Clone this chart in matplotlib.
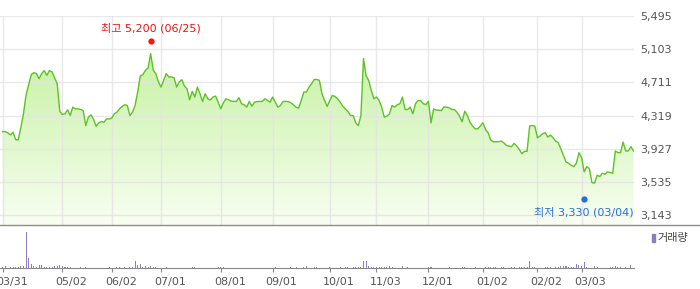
import numpy as np
import matplotlib
matplotlib.use("Agg")
import matplotlib.pyplot as plt
from matplotlib import transforms
from matplotlib.colors import LinearSegmentedColormap
from matplotlib.lines import Line2D
from matplotlib.patches import Rectangle

plt.rcParams["font.family"] = ["DejaVu Sans", "Noto Sans CJK KR"]

# daily closing price, one value per trading day (03/31 .. late March)
price = [
    4129, 4129, 4113, 4089, 4121, 4034, 4030, 4180, 4339, 4564,
    4683, 4802, 4826, 4814, 4754, 4814, 4850, 4794, 4850, 4834,
    4762, 4695, 4366, 4331, 4339, 4386, 4319, 4418, 4398, 4398,
    4390, 4378, 4200, 4299, 4327, 4271, 4192, 4232, 4248, 4240,
    4279, 4279, 4287, 4339, 4358, 4398, 4426, 4446, 4438, 4319,
    4358, 4438, 4596, 4786, 4802, 4854, 4881, 5051, 4854, 4814,
    4715, 4655, 4735, 4814, 4774, 4774, 4766, 4655, 4715, 4743,
    4667, 4636, 4505, 4604, 4537, 4655, 4576, 4485, 4576, 4517,
    4503, 4537, 4549, 4477, 4398, 4469, 4517, 4505, 4489, 4485,
    4485, 4529, 4458, 4446, 4418, 4485, 4430, 4477, 4485, 4485,
    4485, 4517, 4497, 4477, 4537, 4477, 4418, 4438, 4485, 4485,
    4485, 4469, 4446, 4418, 4406, 4497, 4596, 4596, 4655, 4695,
    4745, 4745, 4735, 4576, 4497, 4426, 4497, 4556, 4545, 4517,
    4477, 4430, 4398, 4366, 4319, 4319, 4232, 4200, 4319, 4992,
    4786, 4735, 4616, 4517, 4537, 4497, 4418, 4299, 4311, 4339,
    4438, 4418, 4446, 4458, 4537, 4390, 4390, 4418, 4339, 4458,
    4497, 4495, 4460, 4448, 4488, 4233, 4397, 4382, 4382, 4378,
    4421, 4417, 4409, 4390, 4390, 4358, 4311, 4245, 4370, 4319,
    4241, 4194, 4162, 4162, 4194, 4233, 4154, 4115, 4029, 4009,
    4009, 4009, 4017, 3998, 3966, 3958, 3950, 3990, 3958, 3919,
    3868, 3896, 3896, 4194, 4201, 4194, 4056, 4076, 4103, 4115,
    4064, 4088, 4056, 4017, 3998, 3927, 3849, 3770, 3755, 3731,
    3715, 3755, 3880, 3821, 3653, 3715, 3692, 3527, 3519, 3613,
    3598, 3637, 3625, 3653, 3645, 3637, 3900, 3880, 3880, 4005,
    3900, 3900, 3951, 3900,
]

# trading volume (relative units), only days with a visible bar
vol_idx = (
    [0, 1, 3, 4, 5, 6, 7, 8, 9, 10, 11, 12, 13, 14, 15, 16, 17, 18, 19, 20, 21, 22, 23, 24, 25, 26]
    + [30, 32, 41, 44, 45, 47, 49, 50, 51, 52, 53, 54, 55, 56, 57, 58, 59, 63]
    + [73, 74, 83, 84, 85, 105, 111, 113, 116, 117, 120, 121]
    + [126, 130, 132, 133, 135, 136, 137, 138, 139, 140, 141, 142, 143, 144, 145, 146, 147, 148, 149, 150]
    + [154, 156, 164, 165, 172, 177, 178, 182, 186, 187, 188, 189, 190, 192, 193, 196, 197, 199, 200, 201, 202, 203, 204, 205]
    + [209, 210, 211, 213, 214, 215, 216, 217, 218, 219, 220, 221, 222, 223, 224, 225, 228, 229, 234, 235, 236, 237, 238, 240, 242]
)
vol_val = (
    [4, 7, 4, 4, 4, 4, 7, 7, 109, 31, 13, 7, 4, 10, 10, 4, 4, 4, 4, 7, 7, 10, 7, 4, 4, 4]
    + [4, 4, 4, 4, 4, 4, 4, 4, 22, 10, 13, 4, 7, 4, 7, 4, 4, 4]
    + [4, 4, 4, 4, 4, 4, 4, 4, 4, 7, 4, 4]
    + [4, 4, 4, 4, 4, 4, 4, 4, 22, 22, 7, 4, 4, 4, 4, 4, 4, 4, 7, 4]
    + [7, 4, 4, 4, 4, 4, 4, 4, 4, 4, 4, 4, 4, 4, 4, 4, 4, 4, 4, 4, 4, 22, 4, 4]
    + [4, 4, 4, 4, 4, 7, 7, 7, 4, 4, 4, 13, 10, 7, 19, 4, 7, 4, 4, 4, 7, 4, 4, 4, 10]
)

tick_idx = [0, 23, 42, 61, 84, 104, 126, 144, 164, 185, 206, 223]
tick_lab = ["03/31", "05/02", "06/02", "07/01", "08/01", "09/01",
            "10/01", "11/03", "12/01", "01/02", "02/02", "03/03"]
yticks = [5495, 5103, 4711, 4319, 3927, 3535, 3143]

high_idx, high_val, high_date = 57, 5200, "06/25"
low_idx, low_val, low_date = 224, 3330, "03/04"

n = len(price)
x = np.arange(n)
vol = np.zeros(n)
vol[vol_idx] = vol_val

W, H = 700, 289
fig = plt.figure(figsize=(W / 100, H / 100), dpi=100)


def box(l, t, r, b):
    return [l / W, 1 - b / H, (r - l) / W, (b - t) / H]


ax = fig.add_axes(box(0, 16, 634, 225))
axv = fig.add_axes(box(0, 225, 634, 268))

xlim = (-1.04, 243.2)
ylim = (3025, 5495)
ax.set_xlim(xlim)
ax.set_ylim(ylim)

# gradient area under the line
cmap = LinearSegmentedColormap.from_list("g", ["#f8fef1", "#bdef95"])
grad = np.linspace(0, 1, 256).reshape(-1, 1)
poly = ax.fill_between(x, price, ylim[0], color="none")
im = ax.imshow(grad, cmap=cmap, aspect="auto", origin="lower",
               extent=[xlim[0], xlim[1], ylim[0], ylim[1]], zorder=1)
im.set_clip_path(poly.get_paths()[0], transform=ax.transData)
ax.plot(x, price, color="#5cc324", lw=1.0, zorder=3)

ax.set_xticks(tick_idx)
ax.set_yticks(yticks)
ax.set_yticklabels([f"{v:,}" for v in yticks])
ax.set_axisbelow(False)
ax.grid(True, color="#e4e4e4", lw=1, alpha=0.85)
ax.yaxis.tick_right()
ax.tick_params(axis="y", length=0, pad=4.5, labelsize=8, labelcolor="#555555")
ax.tick_params(axis="x", length=0, labelbottom=False)
for s in ax.spines.values():
    s.set_visible(False)

# high / low markers
ax.plot(high_idx, high_val, "o", color="#ff1111", ms=4.5, mec="none", clip_on=False, zorder=4)
ax.annotate(f"최고 {high_val:,} ({high_date})", xy=(high_idx, high_val),
            xytext=(0, 13), textcoords="offset pixels", ha="center", va="center",
            fontsize=8, color="#ee1111")
ax.plot(low_idx, low_val, "o", color="#1f6fdf", ms=4.5, mec="none", clip_on=False, zorder=4)
ax.annotate(f"최저 {low_val:,} ({low_date})", xy=(low_idx, low_val),
            xytext=(49, -13), textcoords="offset pixels", ha="right", va="center",
            fontsize=8, color="#2a6fd6")

# volume panel
axv.bar(x, vol, width=0.4, color="#8e7cc3", linewidth=0)
axv.set_xlim(xlim)
axv.set_ylim(0, 129)
for k in ["top", "left", "right"]:
    axv.spines[k].set_visible(False)
axv.spines["bottom"].set_color("#888888")
axv.set_yticks([])
axv.set_xticks(tick_idx)
axv.tick_params(axis="x", length=3, color="#888888", labelbottom=False)
lab_tr = transforms.offset_copy(axv.get_xaxis_transform(), fig=fig, x=9, y=-14, units="dots")
for i, lab in zip(tick_idx, tick_lab):
    axv.text(i, 0, lab, transform=lab_tr, ha="center", va="center",
             fontsize=8, color="#555555", clip_on=False)

# separator and legend
fig.add_artist(Line2D([0, 1], [1 - 225 / H] * 2, transform=fig.transFigure,
                      color="#8c8c8c", lw=1))
fig.add_artist(Rectangle((652 / W, 1 - 242 / H), 3 / W, 8 / H,
                         transform=fig.transFigure, color="#8e7cc3"))
fig.text(657 / W, 1 - 238 / H, "거래량", ha="left", va="center", fontsize=8, color="#444444")

fig.savefig("out.png", dpi=100)
